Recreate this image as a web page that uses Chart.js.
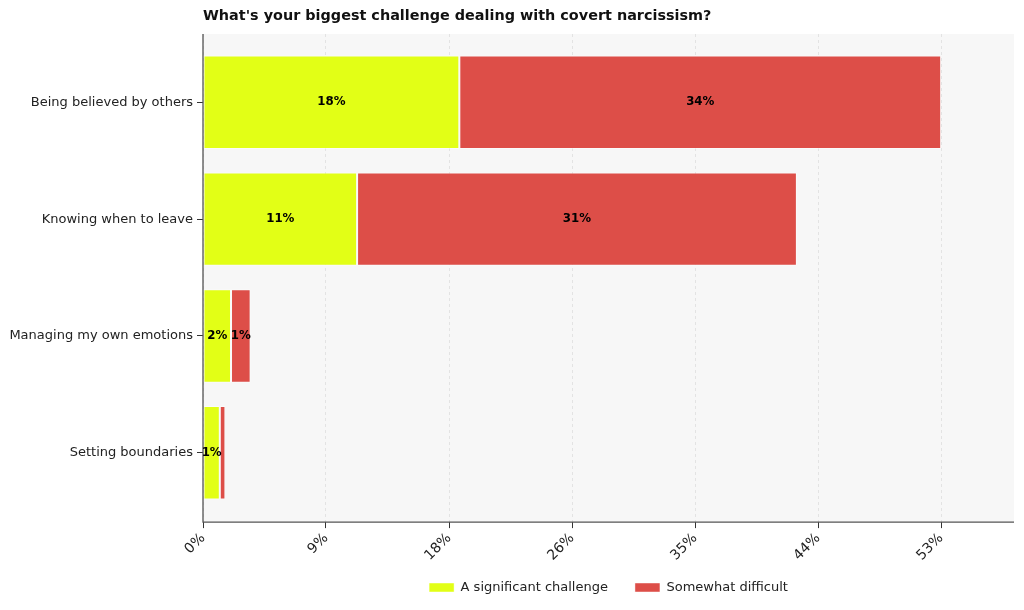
<!DOCTYPE html>
<html>
<head>
<meta charset="utf-8">
<script src="https://cdn.jsdelivr.net/npm/chart.js@4.4.1/dist/chart.umd.min.js"></script>
<style>
  html, body { margin: 0; padding: 0; background: #ffffff; }
  #wrap { width: 1024px; height: 610px; }
</style>
</head>
<body>
<div id="wrap"><canvas id="challengeChart"></canvas></div>
<script>
// categories and values (percent of respondents)
const categories = ['Being believed by others', 'Knowing when to leave', 'Managing my own emotions', 'Setting boundaries'];
const significant = [18.3, 11.0, 2.0, 1.2];
const somewhat = [34.4, 31.4, 1.4, 0.4];
const tickValues = [0, 8.78, 17.57, 26.35, 35.13, 43.92, 52.7];
const tickLabels = ['0%', '9%', '18%', '26%', '35%', '44%', '53%'];

const FONT = "'DejaVu Sans', sans-serif";

// background of the plot area + spines + title
const plotFrame = {
  id: 'plotFrame',
  afterLayout(chart) {
    // center the legend under the plot area, not the whole canvas
    const a = chart.chartArea;
    if (chart.legend) {
      chart.legend.left = a.left;
      chart.legend.right = a.right;
      chart.legend.top -= 12;
      chart.legend.bottom -= 12;
    }
  },
  beforeDraw(chart) {
    const { ctx, chartArea: a } = chart;
    ctx.save();
    ctx.fillStyle = '#f7f7f7';
    ctx.fillRect(a.left, a.top, a.right - a.left, a.bottom - a.top);
    ctx.restore();
  },
  afterDatasetsDraw(chart) {
    const { ctx, chartArea: a } = chart;
    ctx.save();
    ctx.strokeStyle = '#555555';
    ctx.lineWidth = 1.3;
    ctx.beginPath();
    ctx.moveTo(a.left, a.top);
    ctx.lineTo(a.left, a.bottom);
    ctx.lineTo(a.right, a.bottom);
    ctx.stroke();
    // title, left aligned with the plot
    ctx.fillStyle = '#111111';
    ctx.font = 'bold 14.4px ' + FONT;
    ctx.textBaseline = 'middle';
    ctx.textAlign = 'left';
    ctx.fillText("What's your biggest challenge dealing with covert narcissism?", a.left, 16);
    ctx.restore();
  }
};

// percentage labels in the middle of each segment
const segmentLabels = {
  id: 'segmentLabels',
  afterDatasetsDraw(chart) {
    const { ctx } = chart;
    ctx.save();
    ctx.font = 'bold 11.8px ' + FONT;
    ctx.fillStyle = '#000000';
    ctx.textAlign = 'center';
    ctx.textBaseline = 'middle';
    chart.data.datasets.forEach((ds, di) => {
      chart.getDatasetMeta(di).data.forEach((bar, i) => {
        const v = Math.round(ds.data[i].x);
        if (v < 1) return;
        const cx = (bar.base + bar.x) / 2;
        ctx.fillText(v + '%', cx, bar.y);
      });
    });
    ctx.restore();
  }
};

const ctx = document.getElementById('challengeChart').getContext('2d');
new Chart(ctx, {
  type: 'bar',
  data: {
    datasets: [
      {
        label: 'A significant challenge',
        data: significant.map((v, i) => ({ x: v, y: i })),
        backgroundColor: '#e2ff16',
        borderColor: 'rgba(255,255,255,0.45)',
        borderWidth: 1,
        borderSkipped: false
      },
      {
        label: 'Somewhat difficult',
        data: somewhat.map((v, i) => ({ x: v, y: i })),
        backgroundColor: '#dd4e48',
        borderColor: 'rgba(255,255,255,0.45)',
        borderWidth: 1,
        borderSkipped: false
      }
    ]
  },
  options: {
    indexAxis: 'y',
    responsive: true,
    maintainAspectRatio: false,
    animation: false,
    layout: { padding: { top: 34, right: 10, left: 0, bottom: -6 } },
    datasets: { bar: { categoryPercentage: 1, barPercentage: 0.8 } },
    scales: {
      x: {
        type: 'linear',
        stacked: true,
        min: 0,
        max: 57.9,
        afterBuildTicks: axis => { axis.ticks = tickValues.map(v => ({ value: v })); },
        ticks: {
          autoSkip: false,
          minRotation: 45,
          maxRotation: 45,
          color: '#222222',
          font: { family: FONT, size: 14 },
          padding: 2,
          callback: (val, idx) => tickLabels[idx]
        },
        grid: {
          drawOnChartArea: true,
          color: 'rgba(0,0,0,0.08)',
          tickColor: '#333333',
          tickLength: 6,
          drawTicks: true
        },
        border: { display: false, dash: [3, 3] }
      },
      y: {
        type: 'linear',
        stacked: true,
        reverse: true,
        offset: false,
        min: -0.585,
        max: 3.594,
        afterBuildTicks: axis => { axis.ticks = categories.map((c, i) => ({ value: i })); },
        afterFit: scale => { scale.width = 203; },
        ticks: {
          autoSkip: false,
          color: '#222222',
          font: { family: FONT, size: 13 },
          padding: 4,
          callback: (val) => categories[val]
        },
        grid: { drawOnChartArea: false, offset: false, tickColor: '#333333', tickLength: 6 },
        border: { display: false }
      }
    },
    plugins: {
      legend: {
        position: 'bottom',
        labels: {
          boxWidth: 25,
          boxHeight: 9,
          padding: 27,
          color: '#222222',
          font: { family: FONT, size: 13 }
        }
      },
      tooltip: { enabled: false },
      title: { display: false }
    }
  },
  plugins: [plotFrame, segmentLabels]
});
</script>
</body>
</html>
